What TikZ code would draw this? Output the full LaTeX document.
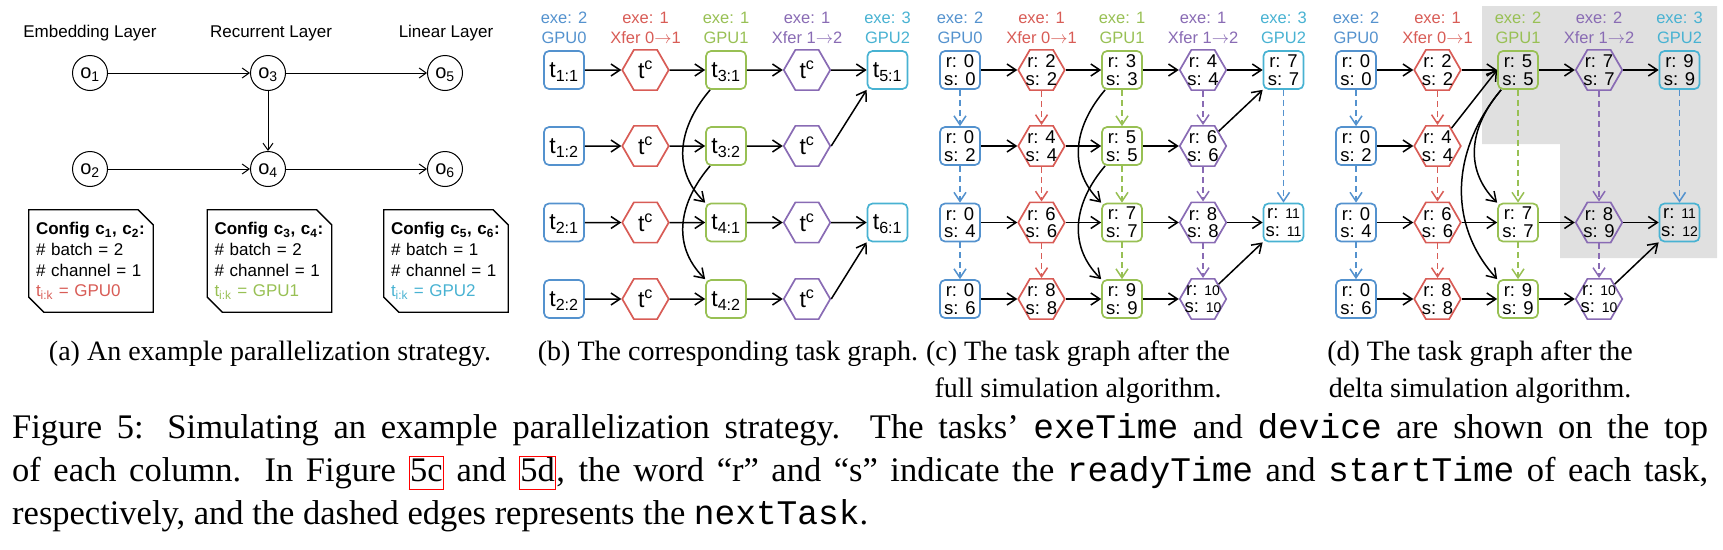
\documentclass[tikz,border=0pt]{standalone}
\usepackage{fontspec}
\setmainfont{Liberation Serif}
\setsansfont{Liberation Sans}
\setmonofont{Liberation Mono}
\usetikzlibrary{arrows.meta,calc,positioning,shapes.geometric}
\definecolor{gpua}{RGB}{84,146,206}
\definecolor{xfera}{RGB}{216,92,86}
\definecolor{gpub}{RGB}{152,192,84}
\definecolor{xferb}{RGB}{137,107,180}
\definecolor{gpuc}{RGB}{72,178,210}
\definecolor{bggray}{RGB}{224,224,224}
\newcommand{\sm}[1]{{\fontsize{14}{14}\selectfont #1}}
\newcommand{\lnk}[1]{{\fboxsep=0.5pt\fboxrule=1pt\color{red}\fbox{\color{black}\vphantom{dg}#1}}}

\begin{document}
\begin{tikzpicture}[x=1pt,y=-1pt,>={Straight Barb[length=9pt,width=12pt]},
    lay/.style={font=\sffamily\fontsize{17}{20}\selectfont},
    op/.style={circle,draw,line width=1pt,minimum size=35pt,inner sep=0pt,text depth=0pt,font=\sffamily\fontsize{20}{20}\selectfont},
    cfg/.style={minimum width=124pt,minimum height=102pt,inner sep=0pt,text width=110pt,align=left,font=\sffamily\fontsize{17}{20.6}\selectfont},
    hd/.style={text=#1,align=center,font=\sffamily\fontsize{16.5}{20}\selectfont},
    tbox/.style={draw=#1,rounded corners=5pt,line width=1.7pt,minimum width=40pt,minimum height=38pt,inner sep=0pt},
    thex/.style={draw=#1,regular polygon,regular polygon sides=6,line width=1.7pt,minimum size=46.5pt,inner sep=0pt},
    tl/.style={text depth=0pt,font=\sffamily\fontsize{23}{23}\selectfont},
    rs/.style={align=center,font=\sffamily\fontsize{18.5}{17.7}\selectfont},
    aro/.style={-{Straight Barb[length=7pt,width=10pt]},line width=1pt},
    dep/.style={->,line width=1.5pt},
    nxt/.style={->,line width=1.5pt,dash pattern=on 6pt off 4pt,draw=#1},
    subcap/.style={anchor=base,inner sep=0pt,font=\fontsize{28}{34}\selectfont},
    capl/.style={anchor=base west,inner sep=0pt,font=\fontsize{34.5}{41}\selectfont}]
  \useasboundingbox (0,0) rectangle (1723,549);
  \fill[bggray] (1482,6) -- (1717,6) -- (1717,258) -- (1560,258) -- (1560,144) -- (1482,144) -- cycle;

  \node[lay] (embl) at (90,33) {Embedding Layer};
  \node[lay] (recl) at (271,33) {Recurrent Layer};
  \node[lay] (linl) at (446,33) {Linear Layer};
  \node[op] (o1) at (90,73) {o\textsubscript{1}};
  \node[op] (o3) at (268,73) {o\textsubscript{3}};
  \node[op] (o5) at (445,73) {o\textsubscript{5}};
  \node[op] (o2) at (90,169) {o\textsubscript{2}};
  \node[op] (o4) at (268,169) {o\textsubscript{4}};
  \node[op] (o6) at (445,169) {o\textsubscript{6}};
  \draw[aro] (o1) -- (o3);
  \draw[aro] (o3) -- (o5);
  \draw[aro] (o3) -- (o4);
  \draw[aro] (o2) -- (o4);
  \draw[aro] (o4) -- (o6);
  \node[cfg] (cf1) at (91,261) {\textbf{Config c\textsubscript{1}, c\textsubscript{2}:}\\\# batch = 2\\\# channel = 1\\\textcolor{xfera}{t\textsubscript{i:k} = GPU0}};
  \node[cfg] (cf2) at (269.5,261) {\textbf{Config c\textsubscript{3}, c\textsubscript{4}:}\\\# batch = 2\\\# channel = 1\\\textcolor{gpub}{t\textsubscript{i:k} = GPU1}};
  \node[cfg] (cf3) at (446,261) {\textbf{Config c\textsubscript{5}, c\textsubscript{6}:}\\\# batch = 1\\\# channel = 1\\\textcolor{gpuc}{t\textsubscript{i:k} = GPU2}};
  \foreach \n in {cf1,cf2,cf3}
    \draw[line width=1.3pt] (\n.north west) -- ($(\n.north east)+(-15,0)$) -- ($(\n.north east)+(0,15)$) -- (\n.south east) -- ($(\n.south west)+(15,0)$) -- ($(\n.south west)+(0,-15)$) -- cycle;

  \foreach \p/\x/\ec/\ed in {b/564/1/1,c/960/1/1,d/1356/2/2} {
    \node[hd=gpua] (\p h1) at (\x,27.5) {exe: 2\\GPU0};
    \node[hd=xfera] (\p h2) at ({\x+81.5},27.5) {exe: 1\\Xfer 0$\rightarrow$1};
    \node[hd=gpub] (\p h3) at ({\x+162},27.5) {exe: \ec\\GPU1};
    \node[hd=xferb] (\p h4) at ({\x+243},27.5) {exe: \ed\\Xfer 1$\rightarrow$2};
    \node[hd=gpuc] (\p h5) at ({\x+323.5},27.5) {exe: 3\\GPU2};
  }

  \foreach \j/\y/\ta/\tb in {1/70/1:1/3:1,2/146/1:2/3:2,3/222.5/2:1/4:1,4/299/2:2/4:2} {
    \node[tbox=gpua,tl] (b1\j) at (564,\y) {t\textsubscript{\ta}};
    \node[thex=xfera,tl] (b2\j) at (645.5,\y) {t\textsuperscript{c}};
    \node[tbox=gpub,tl] (b3\j) at (726,\y) {t\textsubscript{\tb}};
    \node[thex=xferb,tl] (b4\j) at (807,\y) {t\textsuperscript{c}};
    \draw[dep] (b1\j) -- (b2\j);
    \draw[dep] (b2\j) -- (b3\j);
    \draw[dep] (b3\j) -- (b4\j);
  }
  \node[tbox=gpuc,tl] (b51) at (887.5,70) {t\textsubscript{5:1}};
  \node[tbox=gpuc,tl] (b53) at (887.5,222.5) {t\textsubscript{6:1}};
  \draw[dep] (b41) -- (b51);
  \draw[dep] (b42.east) -- (b51.south west);
  \draw[dep] (b43) -- (b53);
  \draw[dep] (b44.east) -- (b53.south west);
  \draw[dep] ($(b31.south west)+(5,0)$) .. controls +(-30,35) and +(-35,-35) .. (b33.north west);
  \draw[dep] ($(b32.south west)+(5,0)$) .. controls +(-30,35) and +(-35,-35) .. (b34.north west);

  \foreach \j/\y/\sa/\vb/\vc/\vd in {1/70/0/2/3/4,2/146/2/4/5/6,3/222.5/4/6/7/8,4/299/6/8/9/\sm{10}} {
    \node[tbox=gpua,rs] (c1\j) at (960,\y) {r: 0\\s: \sa};
    \node[thex=xfera,label={[rs]center:{r: \vb\\s: \vb}}] (c2\j) at (1041.5,\y) {};
    \node[tbox=gpub,rs] (c3\j) at (1122,\y) {r: \vc\\s: \vc};
    \node[thex=xferb,label={[rs]center:{r: \vd\\s: \vd}}] (c4\j) at (1203,\y) {};
    \draw[dep] (c1\j) -- (c2\j);
    \draw[dep] (c2\j) -- (c3\j);
    \draw[dep] (c3\j) -- (c4\j);
  }
  \node[tbox=gpuc,rs] (c51) at (1283.5,70) {r: 7\\s: 7};
  \node[tbox=gpuc,rs] (c53) at (1283.5,222.5) {r: \sm{11}\\s: \sm{11}};
  \draw[dep] (c41) -- (c51);
  \draw[dep] (c42) -- (c51.south west);
  \draw[dep] (c43) -- (c53);
  \draw[dep] (c44) -- (c53.south west);
  \draw[dep] ($(c31.south west)+(4,0)$) .. controls +(-30,35) and +(-35,-35) .. (c33.north west);
  \draw[dep] ($(c32.south west)+(4,0)$) .. controls +(-30,35) and +(-35,-35) .. (c34.north west);

  \foreach \j/\y/\sa/\vb in {1/70/0/2,2/146/2/4,3/222.5/4/6,4/299/6/8} {
    \node[tbox=gpua,rs] (d1\j) at (1356,\y) {r: 0\\s: \sa};
    \node[thex=xfera,label={[rs]center:{r: \vb\\s: \vb}}] (d2\j) at (1437.5,\y) {};
    \draw[dep] (d1\j) -- (d2\j);
  }
  \node[tbox=gpub,rs] (d31) at (1518,70) {r: 5\\s: 5};
  \node[tbox=gpub,rs] (d33) at (1518,222.5) {r: 7\\s: 7};
  \node[tbox=gpub,rs] (d34) at (1518,299) {r: 9\\s: 9};
  \node[thex=xferb,label={[rs]center:{r: 7\\s: 7}}] (d41) at (1599,70) {};
  \node[thex=xferb,label={[rs]center:{r: 8\\s: 9}}] (d43) at (1599,222.5) {};
  \node[thex=xferb,label={[rs]center:{r: \sm{10}\\s: \sm{10}}}] (d44) at (1599,299) {};
  \node[tbox=gpuc,rs] (d51) at (1679.5,70) {r: 9\\s: 9};
  \node[tbox=gpuc,rs] (d53) at (1679.5,222.5) {r: \sm{11}\\s: \sm{12}};
  \draw[dep] (d21) -- (d31);
  \draw[dep] (d22) -- (d31.west);
  \draw[dep] (d23) -- (d33);
  \draw[dep] (d24) -- (d34);
  \draw[dep] (d31) -- (d41);
  \draw[dep] (d33) -- (d43);
  \draw[dep] (d34) -- (d44);
  \draw[dep] (d41) -- (d51);
  \draw[dep] (d43) -- (d53);
  \draw[dep] (d44) -- (d53.south west);
  \draw[dep] ($(d31.south west)+(4,0)$) .. controls +(-30,35) and +(-35,-35) .. (d33.north west);
  \draw[dep] ($(d31.south west)+(4,0)$) .. controls +(-50,60) and +(-50,-55) .. (d34.north west);

  \foreach \j/\k in {1/2,2/3,3/4} {
    \draw[nxt=gpua] (c1\j) -- (c1\k);
    \draw[nxt=xfera] (c2\j) -- (c2\k);
    \draw[nxt=gpub] (c3\j) -- (c3\k);
    \draw[nxt=xferb] (c4\j) -- (c4\k);
    \draw[nxt=gpua] (d1\j) -- (d1\k);
    \draw[nxt=xfera] (d2\j) -- (d2\k);
  }
  \draw[nxt=gpua] (c51) -- (c53);
  \draw[nxt=gpub] (d31) -- (d33);
  \draw[nxt=gpub] (d33) -- (d34);
  \draw[nxt=xferb] (d41) -- (d43);
  \draw[nxt=xferb] (d43) -- (d44);
  \draw[nxt=gpua] (d51) -- (d53);

  \node[subcap] (capa) at (270,360) {(a) An example parallelization strategy.};
  \node[subcap] (capb) at (728,360) {(b) The corresponding task graph.};
  \node[subcap] (capc1) at (1078,360) {(c) The task graph after the};
  \node[subcap] (capc2) at (1078,397) {full simulation algorithm.};
  \node[subcap] (capd1) at (1480,360) {(d) The task graph after the};
  \node[subcap] (capd2) at (1480,397) {delta simulation algorithm.};
  \node[capl] (cap1) at (12,438) {\makebox[1696pt][s]{Figure 5: Simulating an example parallelization strategy. The tasks' \texttt{exeTime} and \texttt{device} are shown on the top}};
  \node[capl] (cap2) at (12,481) {\makebox[1696pt][s]{of each column. In Figure \lnk{5c} and \lnk{5d}, the word ``r'' and ``s'' indicate the \texttt{readyTime} and \texttt{startTime} of each task,}};
  \node[capl] (cap3) at (12,524) {respectively, and the dashed edges represents the \texttt{nextTask}.};
\end{tikzpicture}
\end{document}
